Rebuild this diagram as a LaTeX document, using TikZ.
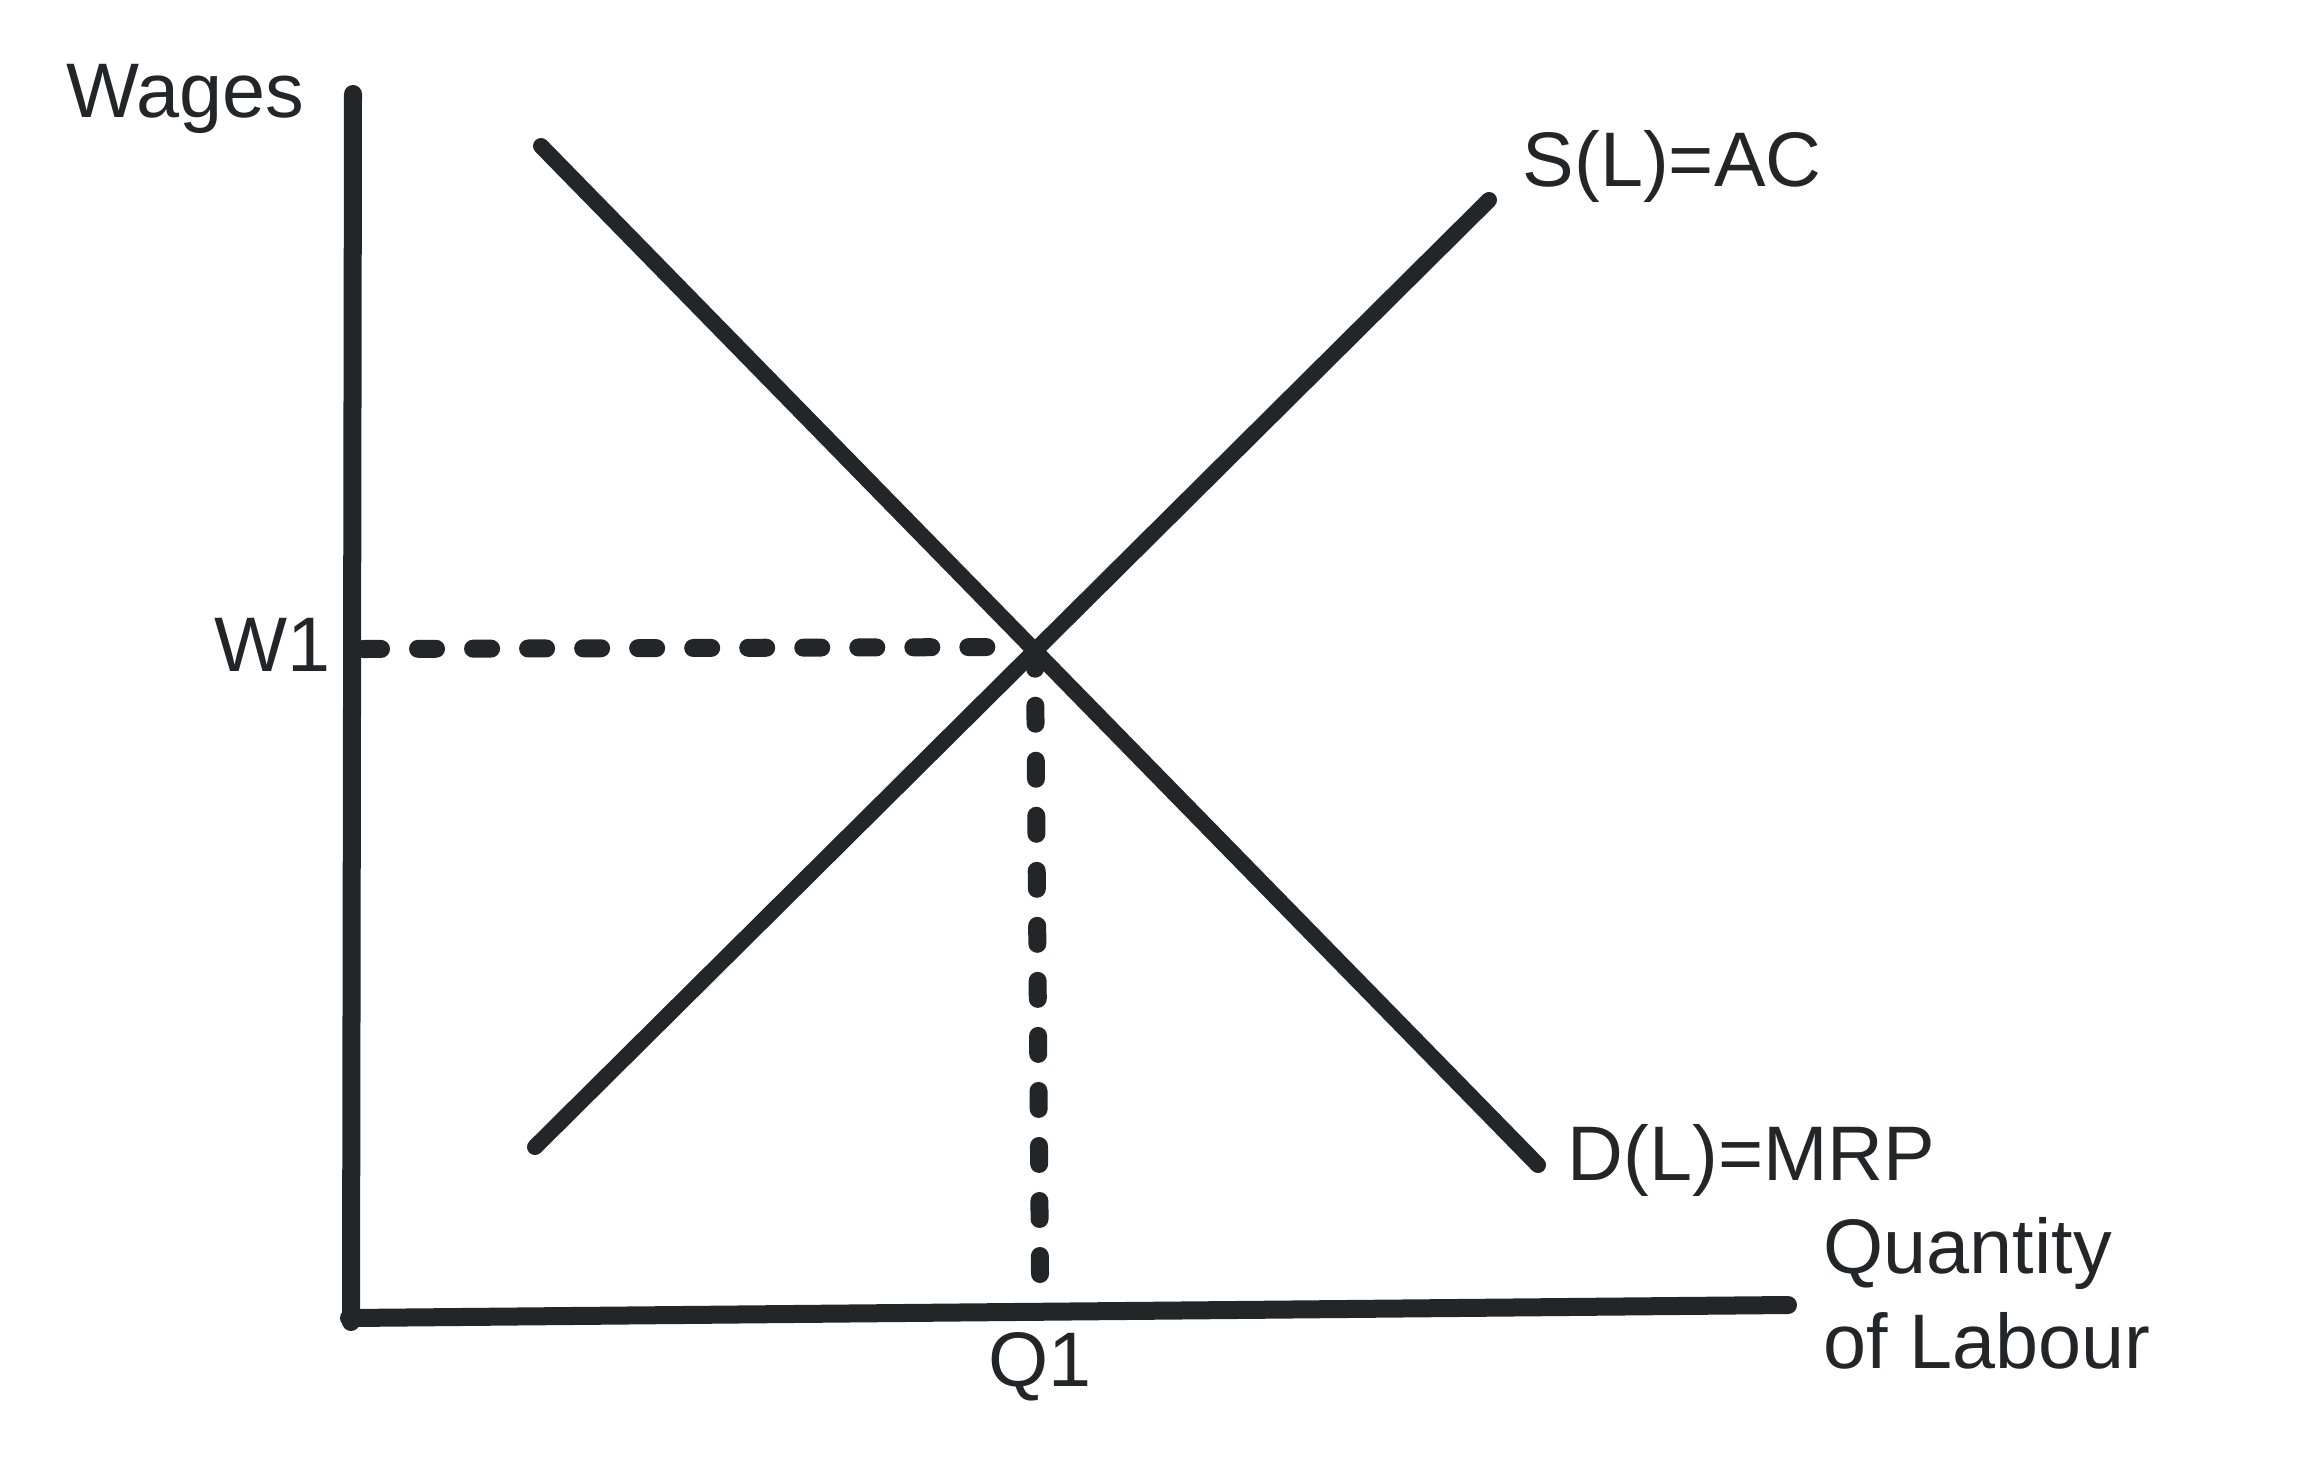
\documentclass[tikz,border=0pt]{standalone}
\usepackage{fontspec}
\setmainfont{Liberation Sans}
\usepackage{tikz}
\definecolor{ink}{RGB}{35,38,41}
\tikzstyle{axis} = [line width=0.18cm, line cap=round, draw=ink]
\tikzstyle{curve} = [line width=0.16cm, line cap=round, draw=ink]
\tikzstyle{guide} = [line width=0.18cm, line cap=round, draw=ink, dash pattern=on 0.18cm off 0.37cm]
\tikzstyle{label} = [anchor=base west, inner sep=0pt, text=ink, font=\fontsize{22}{26}\selectfont]

\begin{document}
\begin{tikzpicture}[x=0.01cm, y=-0.01cm]
        \useasboundingbox (0,0) rectangle (2316,1476);
        % axes
        \coordinate (top) at (353,94);
        \coordinate (bottom) at (351,1322);
        \coordinate (origin) at (349,1318);
        \coordinate (right) at (1788,1305);
        \draw [axis] (top) -- (bottom);
        \draw [axis] (origin) -- (right);

        % supply and demand
        \coordinate (dtop) at (541,146);
        \coordinate (dend) at (1538,1165);
        \coordinate (sbot) at (535,1147);
        \coordinate (send) at (1489,200);
        \draw [curve] (dtop) -- (dend);
        \draw [curve] (sbot) -- (send);

        % equilibrium guides
        \coordinate (wstart) at (363,649);
        \coordinate (wend) at (1002,647);
        \coordinate (qstart) at (1035,660);
        \coordinate (qend) at (1040,1274);
        \draw [guide] (wstart) -- (wend);
        \draw [guide] (qend) -- (qstart);

        \node (wages) [label] at (66,118) {Wages};
        \node (w1) [label] at (214,671) {W1};
        \node (supply) [label] at (1522,186) {S(L)=AC};
        \node (demand) [label] at (1567,1180) {D(L)=MRP};
        \node (quantity) [label] at (1823,1273) {Quantity};
        \node (labour) [label] at (1823,1368) {of Labour};
        \node (q1) [label, anchor=base] at (1040,1386) {Q1};
    \end{tikzpicture}
\end{document}
